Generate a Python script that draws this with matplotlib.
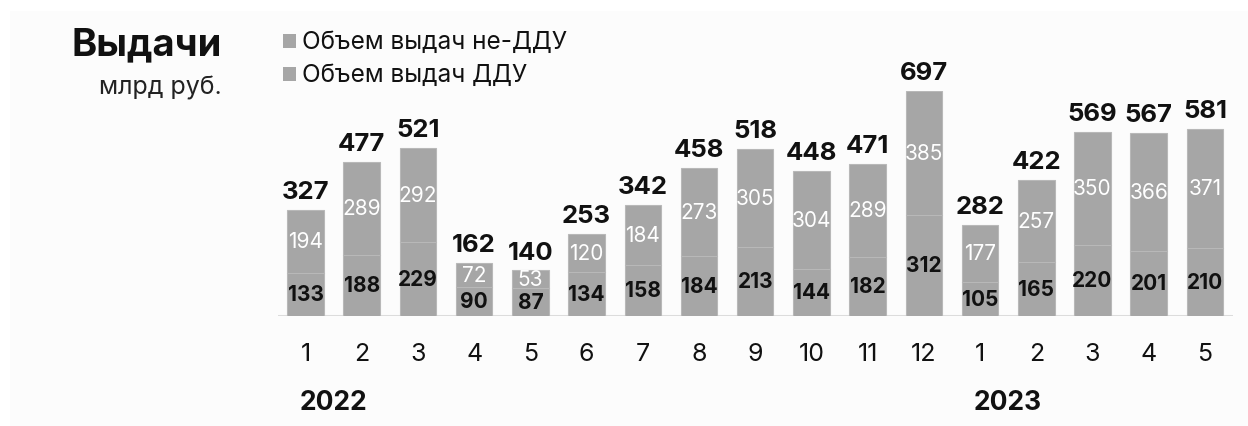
import matplotlib.pyplot as plt
from matplotlib.patches import Rectangle
import numpy as np

plt.rcParams['font.family'] = ['Inter', 'DejaVu Sans']

months = ['1', '2', '3', '4', '5', '6', '7', '8', '9', '10', '11', '12', '1', '2', '3', '4', '5']
years = ['2022', '2023']
ddu = [133, 188, 229, 90, 87, 134, 158, 184, 213, 144, 182, 312, 105, 165, 220, 201, 210]
non_ddu = [194, 289, 292, 72, 53, 120, 184, 273, 305, 304, 289, 385, 177, 257, 350, 366, 371]
totals = [327, 477, 521, 162, 140, 253, 342, 458, 518, 448, 471, 697, 282, 422, 569, 567, 581]

W, H = 1248, 427
fig = plt.figure(figsize=(W / 100, H / 100), dpi=100, facecolor='white')
# off-white panel behind everything
fig.patches.append(Rectangle((10 / W, 0), 1, 1 - 12 / H, transform=fig.transFigure,
                             facecolor='#fcfcfc', edgecolor='none', zorder=-10))

ax = fig.add_axes([278 / W, 1 - 316.5 / H, (1233 - 278) / W, 224.3 / H])
ax.set_facecolor('none')
x = np.arange(len(months))
bar_c = '#a6a6a6'
edge_c = '#b8b8b8'
ax.bar(x, ddu, width=0.65, color=bar_c, edgecolor=edge_c, linewidth=0.8)
ax.bar(x, non_ddu, bottom=ddu, width=0.65, color=bar_c, edgecolor=edge_c, linewidth=0.8)

ax.set_xlim(-0.49, 16.5)
ax.set_ylim(0, 697)
for s in ax.spines.values():
    s.set_visible(False)
ax.axhline(0, color='#dcdcdc', lw=2.2, zorder=0)
ax.set_yticks([])
ax.set_xticks(x)
ax.set_xticklabels(months, fontsize=18)
ax.tick_params(axis='x', length=0, pad=19, colors='#111111')

for i in range(len(months)):
    ax.text(x[i], ddu[i] / 2, str(ddu[i]), ha='center', va='center',
            fontsize=15, fontweight='bold', color='#111111')
    ax.text(x[i], ddu[i] + non_ddu[i] / 2, str(non_ddu[i]), ha='center', va='center',
            fontsize=15, color='white')
    ax.annotate(str(totals[i]), (x[i], totals[i]), xytext=(0, 5), textcoords='offset points',
                ha='center', va='bottom', fontsize=18.5, fontweight='bold', color='#111111',
                annotation_clip=False)

# year labels
ax.text(0.5, -0.385, years[0], transform=ax.get_xaxis_transform(), ha='center', va='center',
        fontsize=19, fontweight='bold', color='#111111')
ax.text(12.5, -0.385, years[1], transform=ax.get_xaxis_transform(), ha='center', va='center',
        fontsize=19, fontweight='bold', color='#111111')

# title and legend
fig.text(222 / W, 1 - 45 / H, 'Выдачи', ha='right', va='center', fontsize=27.5,
         fontweight='bold', color='#111111')
fig.text(222 / W, 1 - 88 / H, 'млрд руб.', ha='right', va='center', fontsize=18,
         color='#222222')
for yy, lab in [(42, 'Объем выдач не-ДДУ'), (75, 'Объем выдач ДДУ')]:
    fig.patches.append(Rectangle((283 / W, 1 - (yy + 7) / H), 13 / W, 14 / H,
                                 transform=fig.transFigure, facecolor=bar_c, edgecolor='none'))
    fig.text(302 / W, 1 - yy / H, lab, ha='left', va='center', fontsize=17.5, color='#111111')

fig.savefig('out.png', dpi=100, facecolor=fig.get_facecolor())
